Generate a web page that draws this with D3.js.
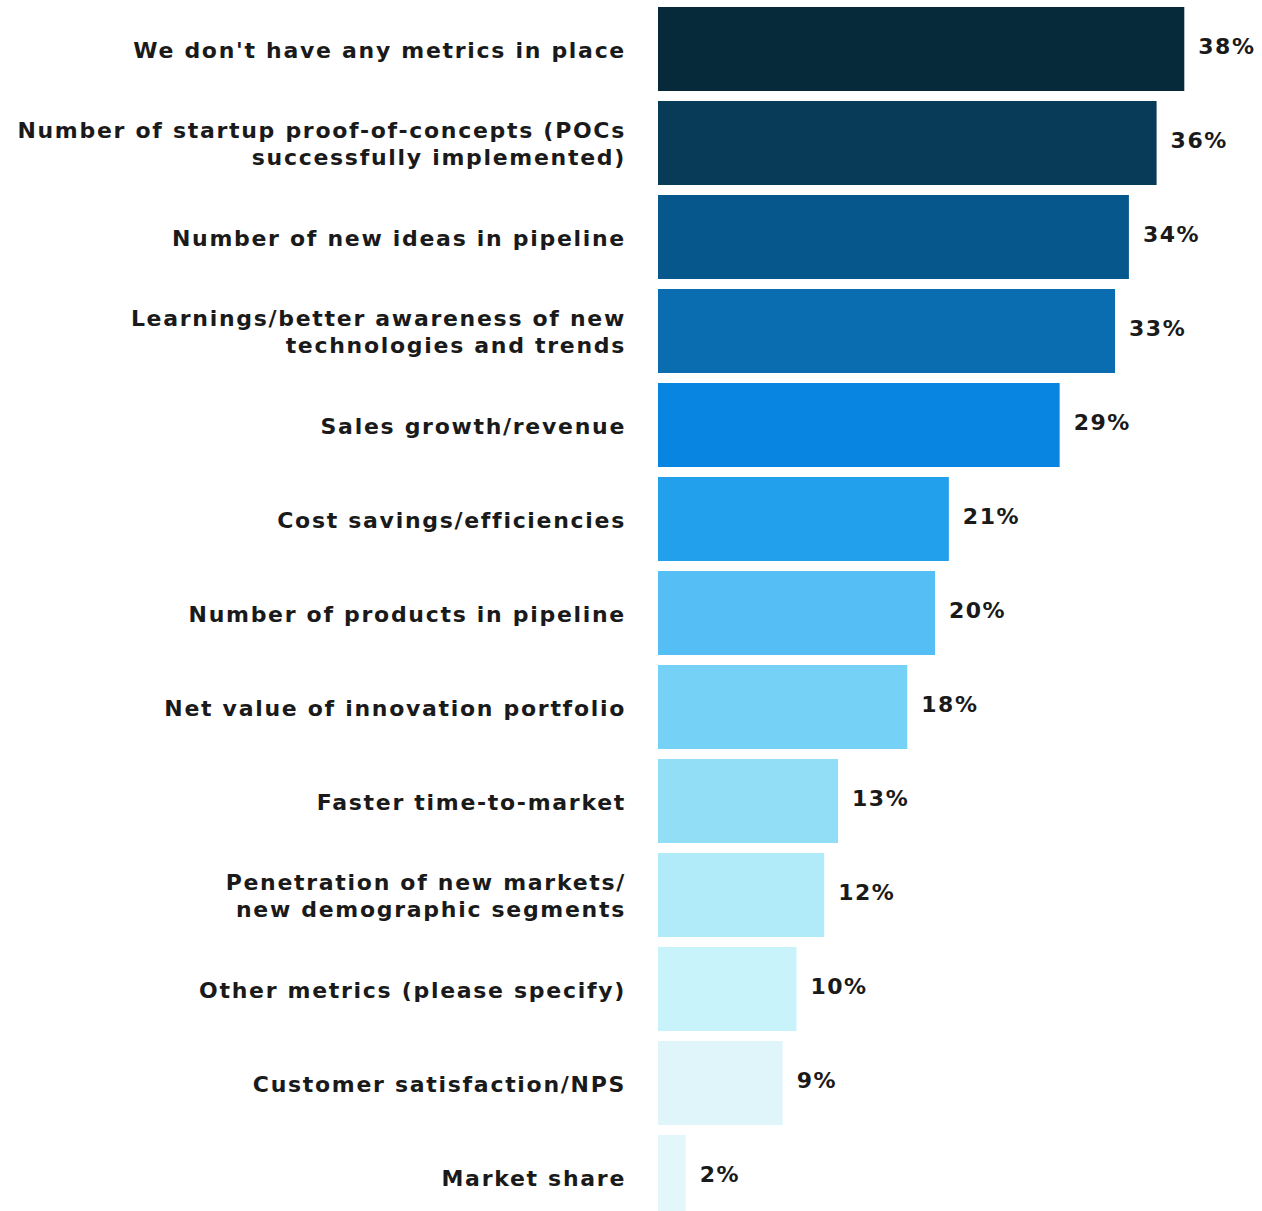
<!DOCTYPE html>
<html>
<head>
<meta charset="utf-8">
<script src="https://cdn.jsdelivr.net/npm/d3@7"></script>
<style>
  body { margin: 0; background: #ffffff; }
  svg text { font-family: "DejaVu Sans", sans-serif; font-weight: 700; fill: #1a1a1a; }
</style>
</head>
<body>
<div id="chart"></div>
<script>
// survey answers, top to bottom (label lines split where the picture wraps)
var categories = [
  ["We don't have any metrics in place"],
  ["Number of startup proof-of-concepts (POCs", "successfully implemented)"],
  ["Number of new ideas in pipeline"],
  ["Learnings/better awareness of new", "technologies and trends"],
  ["Sales growth/revenue"],
  ["Cost savings/efficiencies"],
  ["Number of products in pipeline"],
  ["Net value of innovation portfolio"],
  ["Faster time-to-market"],
  ["Penetration of new markets/", "new demographic segments"],
  ["Other metrics (please specify)"],
  ["Customer satisfaction/NPS"],
  ["Market share"]
];
var values = [38, 36, 34, 33, 29, 21, 20, 18, 13, 12, 10, 9, 2];
var colors = ["#072a3b", "#073b58", "#06578b", "#0a6db0", "#0885e0", "#22a0eb",
              "#55bef5", "#76d1f6", "#92def7", "#b1eaf9", "#c9f3fb", "#e0f5f9", "#e3f6fa"];

var width = 1262, height = 1211;
var barLeft = 658;

var svg = d3.select("#chart").append("svg")
  .attr("width", width)
  .attr("height", height);

var keys = categories.map(function(d, i) { return i; });

var y = d3.scaleBand()
  .domain(keys)
  .range([7, 1219])
  .paddingInner(10 / 94)
  .paddingOuter(0);

var x = d3.scaleLinear()
  .domain([0, 38])
  .range([0, 38 * 13.85]);

var g = svg.append("g")
  .attr("transform", "translate(" + barLeft + ",0)");

// bars
g.selectAll("rect.bar")
  .data(values)
  .enter().append("rect")
  .attr("class", "bar")
  .attr("x", 0)
  .attr("y", function(d, i) { return y(i); })
  .attr("width", function(d) { return x(d); })
  .attr("height", y.bandwidth())
  .attr("fill", function(d, i) { return colors[i]; });

// value labels
g.selectAll("text.val")
  .data(values)
  .enter().append("text")
  .attr("class", "val")
  .attr("x", function(d) { return x(d) + 14; })
  .attr("y", function(d, i) { return y(i) + y.bandwidth() / 2 - 3; })
  .attr("dy", "0.35em")
  .style("font-size", "22px")
  .style("letter-spacing", "1.5px")
  .text(function(d) { return d + "%"; });

// category labels
var lab = svg.selectAll("text.cat")
  .data(categories)
  .enter().append("text")
  .attr("class", "cat")
  .attr("text-anchor", "end")
  .style("font-size", "22px")
  .style("letter-spacing", "1.7px")
  .attr("transform", function(d, i) {
    return "translate(626," + (y(i) + y.bandwidth() / 2 + 1) + ")";
  });

lab.selectAll("tspan")
  .data(function(d) { return d.map(function(t, j) { return {t: t, j: j, n: d.length}; }); })
  .enter().append("tspan")
  .attr("x", 0)
  .attr("y", function(d) { return (d.j - (d.n - 1) / 2) * 27.5; })
  .attr("dy", "0.35em")
  .text(function(d) { return d.t; });
</script>
</body>
</html>
